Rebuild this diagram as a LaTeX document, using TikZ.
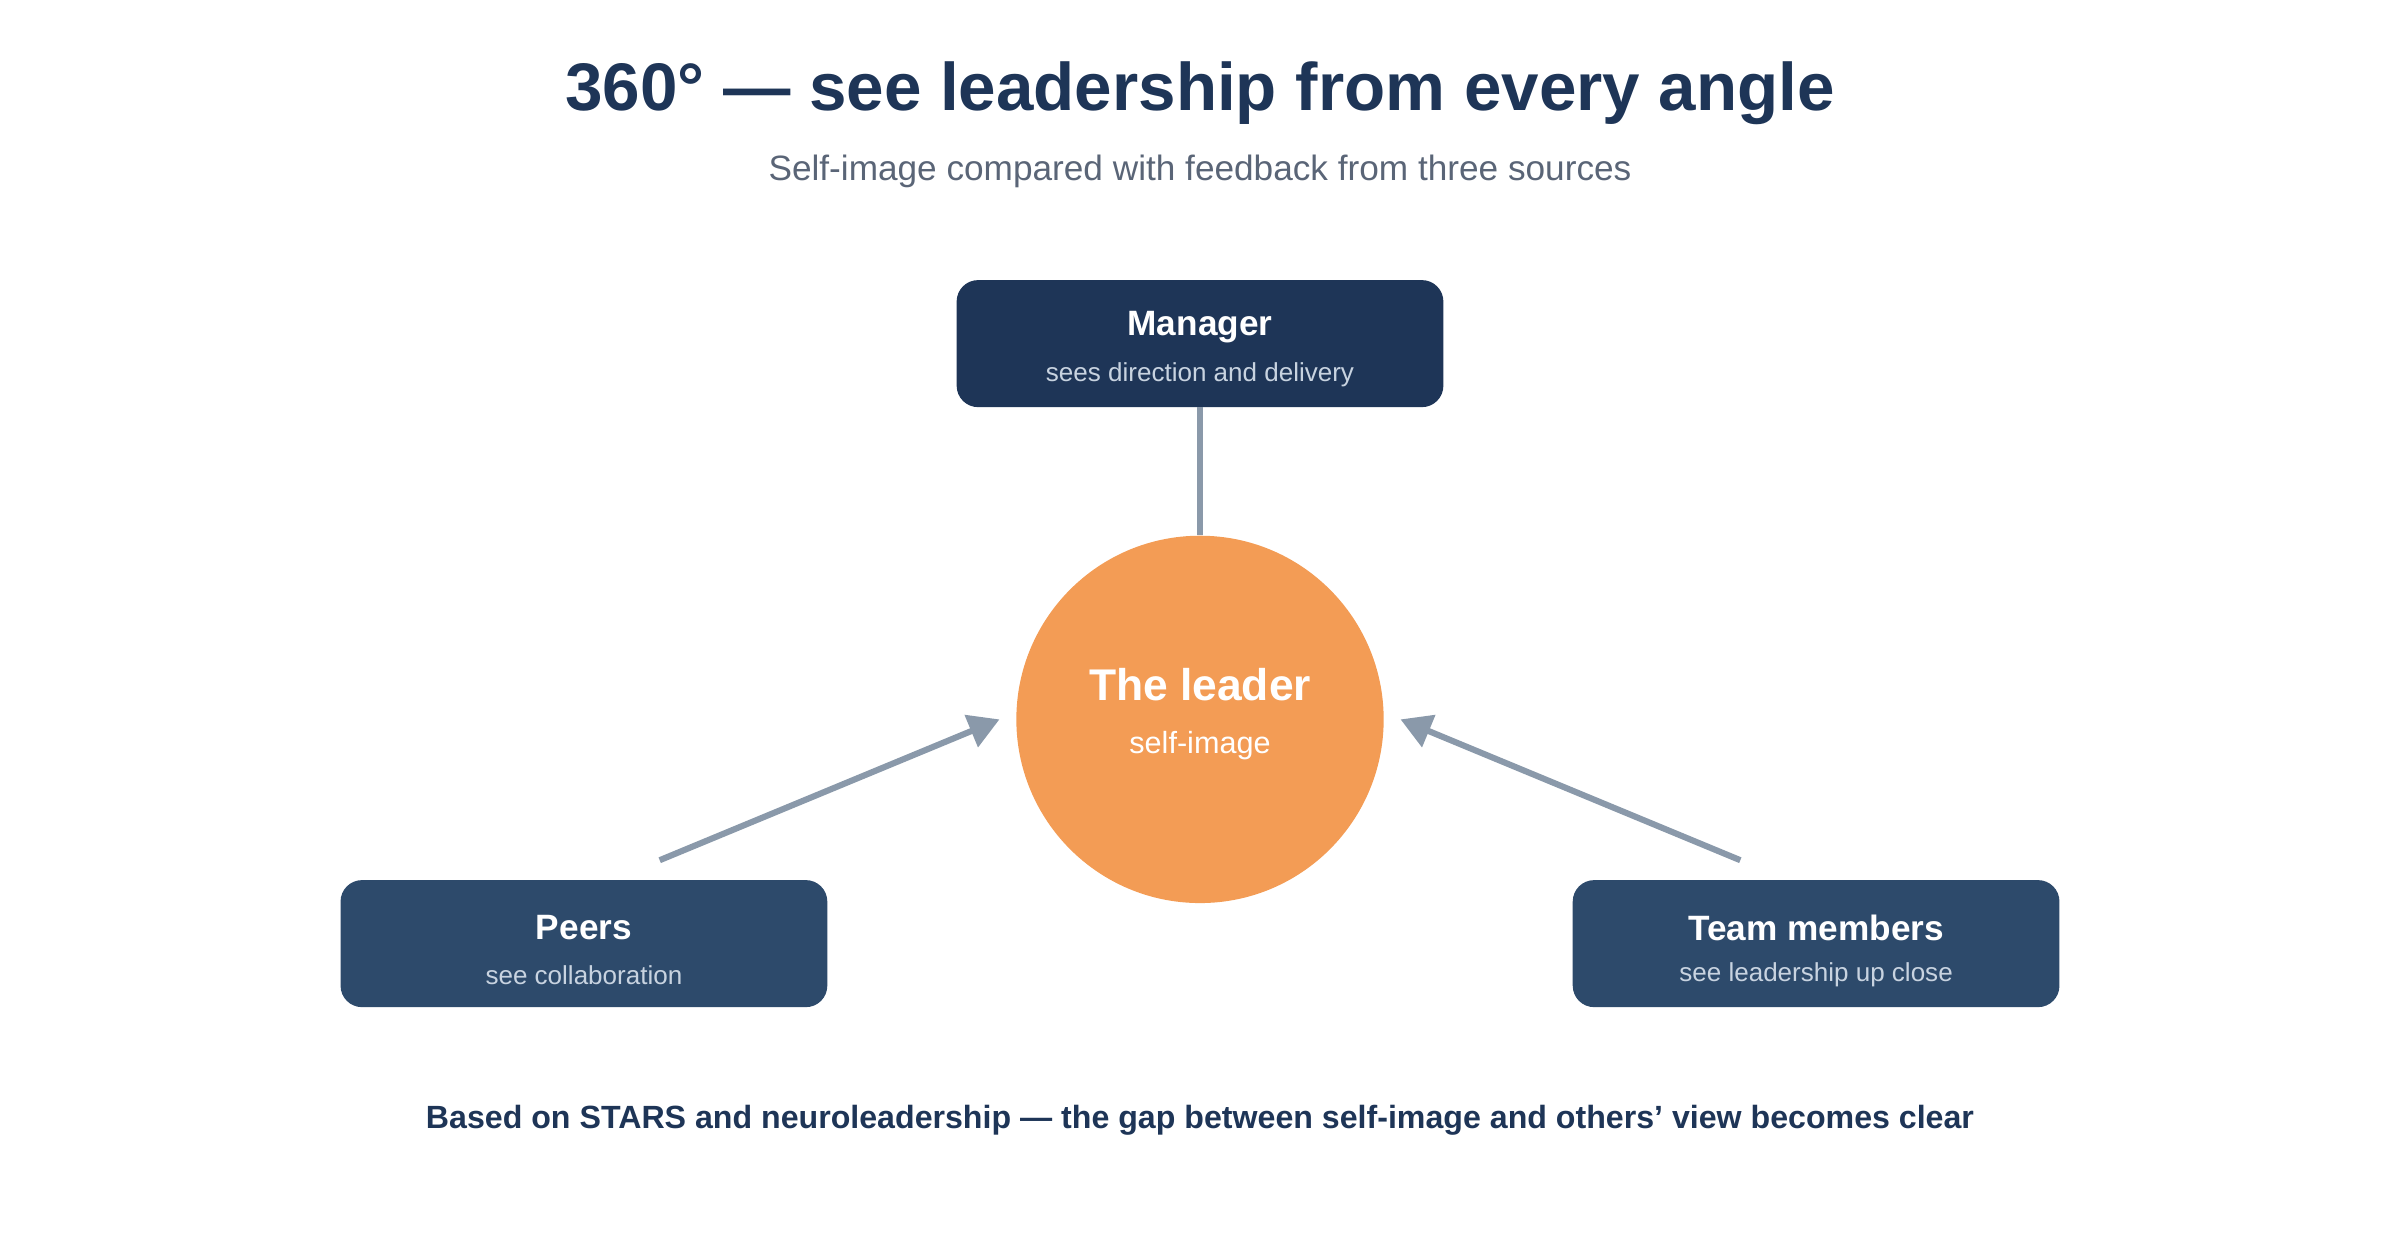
\documentclass[tikz,border=0pt]{standalone}
\usepackage{fontspec}
\setmainfont{Liberation Sans}
\usetikzlibrary{arrows.meta}
\definecolor{navy}{HTML}{1E3557}
\definecolor{slate}{HTML}{2D4A6B}
\definecolor{leader}{HTML}{F39C55}
\definecolor{wire}{HTML}{8A99AA}
\definecolor{subgray}{HTML}{5A6577}
\definecolor{boxsub}{HTML}{C8D3E0}
\tikzset{
  source/.style={rectangle, rounded corners=14pt, minimum width=318pt, minimum height=83pt, inner sep=0pt},
  head/.style={text=white, font=\fontsize{23}{26}\selectfont\bfseries},
  note/.style={text=boxsub, font=\fontsize{17}{20}\selectfont},
  link/.style={draw=wire, line width=4pt},
}
\begin{document}
\begin{tikzpicture}[x=1pt,y=-1pt]
\useasboundingbox (0,0) rectangle (1568,810);
% title
\node[text=navy, font=\fontsize{44}{50}\selectfont\bfseries] (title) at (784,61) {360° — see leadership from every angle};
\node[text=subgray, font=\fontsize{23}{27}\selectfont] (subtitle) at (784,112) {Self-image compared with feedback from three sources};
% sources
\node[source, fill=navy] (manager) at (784,224.5) {};
\node[head] (managerhead) at (784,214) {Manager};
\node[note] (managernote) at (784,245) {sees direction and delivery};
\node[source, fill=slate] (peers) at (381.5,616.5) {};
\node[head] (peershead) at (381.5,606) {Peers};
\node[note] (peersnote) at (381.5,637) {see collaboration};
\node[source, fill=slate] (team) at (1186.5,616.5) {};
\node[head] (teamhead) at (1186.5,606) {Team members};
\node[note] (teamnote) at (1186.5,637) {see leadership up close};
% leader
\node[circle, fill=leader, minimum size=240pt, inner sep=0pt] (leader) at (784,470) {};
\node[text=white, font=\fontsize{29}{33}\selectfont\bfseries] (leaderhead) at (784,447) {The leader};
\node[text=white, font=\fontsize{20}{24}\selectfont] (leadernote) at (784,487) {self-image};
% connectors
\coordinate (pfoot) at (431,562);
\coordinate (ptip) at (653,470);
\coordinate (tfoot) at (1137,562);
\coordinate (ttip) at (915,470);
\draw[link] (manager.south) -- (leader.north);
\draw[link, -{Triangle[length=20pt,width=22pt]}] (pfoot) -- (ptip);
\draw[link, -{Triangle[length=20pt,width=22pt]}] (tfoot) -- (ttip);
% footer
\node[text=navy, font=\fontsize{21}{25}\selectfont\bfseries] (footer) at (784,732) {Based on STARS and neuroleadership — the gap between self-image and others' view becomes clear};
\end{tikzpicture}
\end{document}
